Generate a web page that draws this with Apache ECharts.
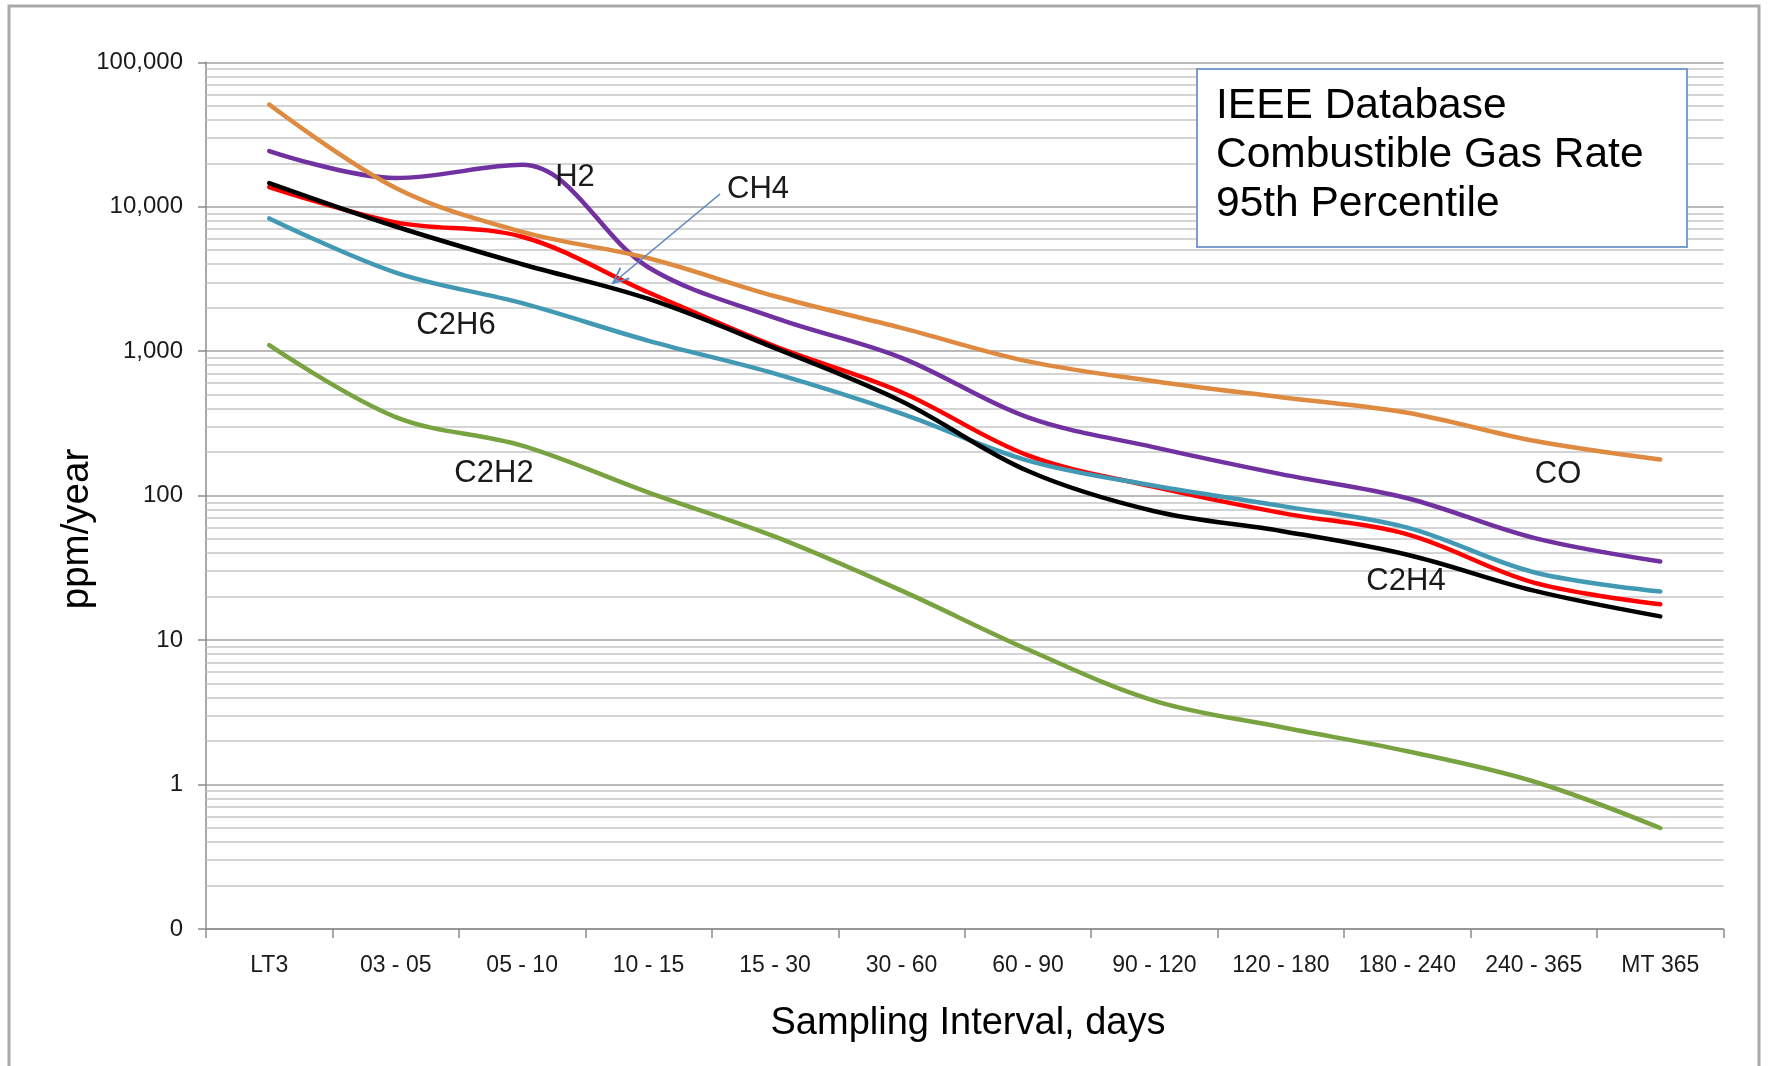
<!DOCTYPE html>
<html>
<head>
<meta charset="utf-8">
<title>IEEE Database Combustible Gas Rate</title>
<script src="https://cdn.jsdelivr.net/npm/echarts@6/dist/echarts.min.js"></script>
<style>
  html, body { margin: 0; padding: 0; background: #ffffff; }
  #chart { width: 1769px; height: 1066px; }
</style>
</head>
<body>
<div id="chart"></div>
<script>
// Sampling-interval categories (days)
const categories = ['LT3', '03 - 05', '05 - 10', '10 - 15', '15 - 30', '30 - 60',
                    '60 - 90', '90 - 120', '120 - 180', '180 - 240', '240 - 365', 'MT 365'];

// 95th percentile gas rates, ppm/year
const h2   = [24300, 15800, 19500, 3800, 1700, 900, 348, 216, 141, 96, 51, 35];
const ch4  = [13700, 7800, 6200, 2550, 1080, 520, 190, 115, 76, 54, 25, 17.7];
const c2h6 = [8300, 3500, 2150, 1180, 700, 370, 175, 117, 85, 60, 29.5, 21.7];
const c2h4 = [14600, 7300, 4000, 2300, 1050, 450, 148, 78, 57, 39, 22, 14.6];
const c2h2 = [1100, 350, 222, 105, 52, 22, 8.6, 3.8, 2.5, 1.7, 1.05, 0.5];
const co   = [51000, 13500, 6700, 4400, 2400, 1450, 850, 620, 480, 375, 240, 178];

// Log-axis decade labels, from 0.1 up to 100,000
const yTickLabels = ['0', '1', '10', '100', '1,000', '10,000', '100,000'];

const FONT = "'Liberation Sans', Arial, sans-serif";

// Minor gridlines at 2..9 within each decade
const minorLines = [];
for (let d = -1; d < 5; d++) {
  for (let m = 2; m <= 9; m++) minorLines.push({ yAxis: +(m * Math.pow(10, d)).toPrecision(6) });
}

function gasSeries(name, data, color, z) {
  return {
    name: name,
    type: 'line',
    data: data,
    smooth: 0.35,
    showSymbol: false,
    symbol: 'none',
    z: z,
    lineStyle: { color: color, width: 4.5, cap: 'round', join: 'round' },
    emphasis: { disabled: true },
    silent: true,
    animation: false
  };
}

const chart = echarts.init(document.getElementById('chart'), null, { renderer: 'canvas' });

// Callout arrow pointing at the CH4 curve
const tail = [720, 194], tip = [613, 283];
const ang = Math.atan2(tail[1] - tip[1], tail[0] - tip[0]);
const armLen = 17, spread = 0.42;
const arm1 = [tip[0] + armLen * Math.cos(ang + spread), tip[1] + armLen * Math.sin(ang + spread)];
const arm2 = [tip[0] + armLen * Math.cos(ang - spread), tip[1] + armLen * Math.sin(ang - spread)];

function label(text, x, y, size) {
  return {
    type: 'text', silent: true, z: 20,
    style: { text: text, x: x, y: y, font: size + 'px ' + FONT, fill: '#1a1a1a',
             textAlign: 'center', textVerticalAlign: 'middle' }
  };
}

function titleLine(text, y) {
  return { type: 'text', silent: true, z: 16,
    style: { text: text, x: 1216, y: y, font: '42.5px ' + FONT, fill: '#000',
             textAlign: 'left', textVerticalAlign: 'middle' } };
}

chart.setOption({
  animation: false,
  backgroundColor: '#ffffff',
  grid: { left: 206, right: 45.5, top: 62.3, bottom: 137, containLabel: false },
  xAxis: {
    type: 'category',
    data: categories,
    boundaryGap: true,
    axisLine: { show: true, lineStyle: { color: '#8c8c8c', width: 1.5 } },
    axisTick: { show: true, alignWithLabel: false, length: 9, lineStyle: { color: '#8c8c8c', width: 1.5 } },
    axisLabel: { fontFamily: FONT, fontSize: 23, color: '#1a1a1a', margin: 25, interval: 0 },
    splitLine: { show: false }
  },
  yAxis: {
    type: 'log',
    logBase: 10,
    min: 0.1,
    max: 100000,
    splitNumber: 6,
    axisLine: { show: true, lineStyle: { color: '#8c8c8c', width: 1.5 } },
    axisTick: { show: true, inside: false, length: 8, lineStyle: { color: '#8c8c8c', width: 1.5 } },
    axisLabel: {
      fontFamily: FONT, fontSize: 24, color: '#1a1a1a', margin: 23,
      formatter: function (v) {
        const i = Math.round(Math.log10(v)) + 1;
        return yTickLabels[i] !== undefined ? yTickLabels[i] : '';
      }
    },
    splitLine: { show: true, lineStyle: { color: '#a2a2a2', width: 1.7 } },
    minorTick: { show: false },
    minorSplitLine: { show: false }
  },
  series: [
    {
      name: 'grid-minor',
      type: 'line',
      data: categories.map(function () { return null; }),
      silent: true,
      z: 1,
      animation: false,
      markLine: {
        silent: true,
        z: 1,
        animation: false,
        symbol: ['none', 'none'],
        label: { show: false },
        emphasis: { disabled: true },
        lineStyle: { color: '#c6c6c6', width: 1.6, type: 'solid' },
        data: minorLines
      }
    },
    gasSeries('H2', h2, '#7131a1', 3),
    gasSeries('CH4', ch4, '#ff0000', 4),
    gasSeries('C2H6', c2h6, '#4299b4', 5),
    gasSeries('C2H4', c2h4, '#000000', 6),
    gasSeries('C2H2', c2h2, '#79a340', 7),
    gasSeries('CO', co, '#de8a40', 8)
  ],
  graphic: [
    // outer chart-area border
    { type: 'rect', silent: true, z: 0,
      shape: { x: 9, y: 6, width: 1750, height: 1100 },
      style: { fill: 'none', stroke: '#a9a9a9', lineWidth: 3 } },
    // title box
    { type: 'rect', silent: true, z: 15,
      shape: { x: 1197, y: 69, width: 490, height: 178 },
      style: { fill: '#ffffff', stroke: '#7b9ccf', lineWidth: 2 } },
    titleLine('IEEE Database', 106.5),
    titleLine('Combustible Gas Rate', 155.5),
    titleLine('95th Percentile', 204),
    // series labels
    label('H2', 575, 177, 31),
    label('CH4', 758, 189, 31),
    label('C2H6', 456, 325, 31),
    label('C2H2', 494, 473, 31),
    label('CO', 1558, 474, 31),
    label('C2H4', 1406, 581, 31),
    // callout arrow
    { type: 'polyline', silent: true, z: 19,
      shape: { points: [tail, tip] },
      style: { stroke: '#5b86c0', lineWidth: 1.6, fill: 'none' } },
    { type: 'polyline', silent: true, z: 19,
      shape: { points: [arm1, tip, arm2] },
      style: { stroke: '#5b86c0', lineWidth: 1.8, fill: 'none' } },
    // axis titles
    { type: 'text', silent: true, z: 16, rotation: Math.PI / 2, x: 77, y: 529,
      style: { text: 'ppm/year', x: 0, y: 0, font: '38.5px ' + FONT, fill: '#000',
               textAlign: 'center', textVerticalAlign: 'middle' } },
    { type: 'text', silent: true, z: 16,
      style: { text: 'Sampling Interval, days', x: 968, y: 1024, font: '38px ' + FONT, fill: '#000',
               textAlign: 'center', textVerticalAlign: 'middle' } }
  ]
});
</script>
</body>
</html>
